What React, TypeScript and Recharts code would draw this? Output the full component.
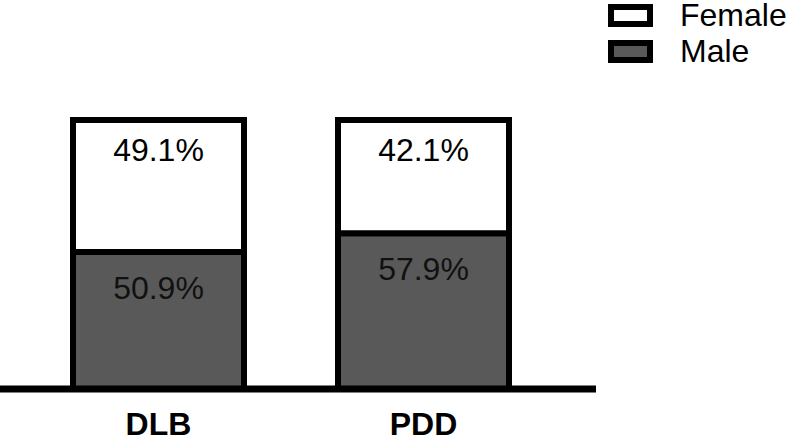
import { BarChart, Bar, XAxis, YAxis, LabelList, Legend } from 'recharts'

const GROUPS = ['DLB', 'PDD']
const MALE = [50.9, 57.9]
const FEMALE = [49.1, 42.1]

const FONT = '"Liberation Sans", Arial, Helvetica, sans-serif'
const MALE_FILL = '#595959'

const data = GROUPS.map((g, i) => ({ group: g, male: MALE[i], female: FEMALE[i] }))

const legendItems = [
  { name: 'Female', fill: '#ffffff' },
  { name: 'Male', fill: MALE_FILL },
]

function SexLegend() {
  return (
    <div style={{ fontFamily: FONT }}>
      {legendItems.map((it) => (
        <div key={it.name} style={{ display: 'flex', alignItems: 'center', height: 36 }}>
          <div
            style={{
              width: 33,
              height: 11,
              background: it.fill,
              border: '6px solid #000',
              marginRight: 27,
            }}
          />
          <span style={{ fontSize: 32, color: '#000', lineHeight: '36px' }}>{it.name}</span>
        </div>
      ))}
    </div>
  )
}

const pct = (v: number) => `${v}%`

export default function App() {
  return (
    <div style={{ position: 'absolute', left: 0, top: 0, background: '#fff' }}>
      <BarChart
        width={787}
        height={437}
        data={data}
        margin={{ top: 120, right: 191, bottom: 8, left: 0 }}
        barSize={171}
      >
        <XAxis
          dataKey="group"
          height={40}
          padding={{ left: 26, right: 40 }}
          axisLine={{ stroke: '#000', strokeWidth: 7 }}
          tickLine={false}
          tick={{ fontSize: 32, fontWeight: 700, fill: '#000', fontFamily: FONT }}
          tickMargin={17}
        />
        <YAxis hide width={0} domain={[0, 100]} />
        <Legend
          content={<SexLegend />}
          layout="vertical"
          align="center"
          verticalAlign="middle"
          wrapperStyle={{ left: 608, top: -3, width: 180 }}
        />
        <Bar dataKey="male" stackId="a" fill={MALE_FILL} stroke="#000" strokeWidth={6} isAnimationActive={false}>
          <LabelList
            dataKey="male"
            position="insideTop"
            offset={24}
            formatter={pct}
            style={{ fontSize: 32, fill: '#111', fontFamily: FONT }}
          />
        </Bar>
        <Bar dataKey="female" stackId="a" fill="#ffffff" stroke="#000" strokeWidth={6} isAnimationActive={false}>
          <LabelList
            dataKey="female"
            position="insideTop"
            offset={18}
            formatter={pct}
            style={{ fontSize: 32, fill: '#000', fontFamily: FONT }}
          />
        </Bar>
      </BarChart>
    </div>
  )
}
